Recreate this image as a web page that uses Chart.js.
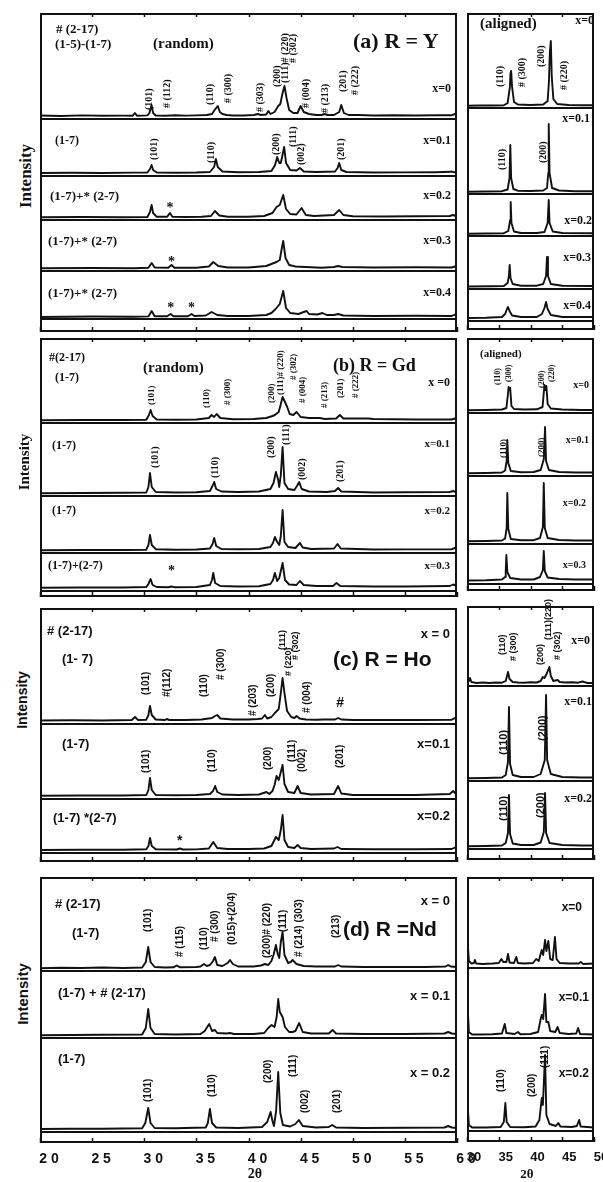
<!DOCTYPE html>
<html><head><meta charset="utf-8">
<script src="https://cdn.jsdelivr.net/npm/chart.js@4.4.1/dist/chart.umd.min.js"></script>
<style>
html,body{margin:0;padding:0;background:#fff;}
body{width:603px;height:1182px;position:relative;overflow:hidden;}
.t{position:absolute;white-space:nowrap;color:#111;line-height:1;}
.se{font-family:"Liberation Serif","DejaVu Serif",serif;font-weight:bold;}
.sa{font-family:"Liberation Sans","DejaVu Sans",sans-serif;font-weight:bold;}
.v{writing-mode:vertical-rl;transform:translate(-50%,-100%) rotate(180deg);}
.vi{writing-mode:vertical-rl;transform:translate(-50%,-50%) rotate(180deg);}
canvas{position:absolute;}
</style></head><body>
<script>
// ---------- DATA (2θ in degrees, intensity in arbitrary units) ----------
const LEFT_TICKS = [20,25,30,35,40,45,50,55,60];
const RIGHT_TICKS = [30,35,40,45,50];

// (a) R = Y, random
const RAND_Y_X0 = [[20,2.5],[22,2],[24,2.6],[26,2.2],[28,2.4],[28.9,2.3],[29.1,5],[29.3,2.3],[30.3,2.6],[30.5,5],[30.7,13],[30.85,5],[31.1,2.5],[32,2.3],[33,2.8],[34,2.4],[35,2.6],[36,3],[36.5,4],[36.75,8],[36.9,10],[37.05,12],[37.25,6],[37.5,4],[37.9,3],[38.5,2.5],[39.5,2.5],[40.5,3],[40.9,4],[41.2,3],[41.7,3.5],[41.9,7],[42.1,4],[42.5,6],[42.85,12],[43.05,14],[43.25,24],[43.45,32],[43.65,20],[43.9,8],[44.3,5],[44.7,5],[45.0,12],[45.3,6],[45.8,4],[46.5,3],[47.0,3],[47.3,4],[47.6,3],[48.2,3],[48.7,6],[48.9,13],[49.15,5],[49.6,3],[50.5,3],[52,2.5],[54,2.8],[56,2.5],[58,2.7],[59.5,2.8],[59.8,4],[60,3]];
const RAND_Y_X01 = [[20,2],[23,2.3],[26,2],[29,2.4],[30.3,2.5],[30.55,6],[30.7,10],[30.85,5],[31.2,2.5],[33,2.3],[35,2.5],[36.3,3],[36.7,8],[36.87,16],[37.05,8],[37.5,3.5],[39,2.8],[41,3],[42.2,4],[42.55,10],[42.75,18],[42.95,12],[43.1,12],[43.3,22],[43.42,28],[43.6,12],[44,5],[44.6,4.5],[44.93,7],[45.3,3.5],[46.5,3],[48.3,3.5],[48.55,7],[48.7,12],[48.9,5],[49.4,3],[52,2.5],[55,2.6],[58,2.8],[59.4,3.2],[59.5,3.5],[59.6,3],[60,2.5]];
const RAND_Y_X02 = [[20,1.7],[24,2],[28,1.8],[30.3,2],[30.55,7],[30.71,14],[30.85,6],[31.2,2.2],[32.2,2.2],[32.46,6],[32.7,2.3],[34,2],[35.5,2.3],[36.4,3],[36.78,8],[37.2,3.5],[38,2.3],[40,2.3],[41.5,3],[42.3,6],[42.69,12],[43,14],[43.33,24],[43.6,10],[44,5],[44.6,4.5],[45.09,11],[45.5,4],[46.3,3],[48.2,4],[48.7,9],[49.1,4],[50,2.8],[53,2.5],[56,2.8],[59.3,3],[59.63,4],[60,2.5]];
const RAND_Y_X03 = [[20,1.7],[25,2],[29,1.8],[30.4,2.2],[30.71,7],[31,2.5],[32.3,2.3],[32.62,5],[32.9,2.2],[35,2.2],[36.2,3.5],[36.62,8],[37.1,4],[38,2.5],[40,2.5],[41.7,4],[42.69,8],[43,10],[43.2,22],[43.33,29],[43.55,12],[43.9,5],[44.5,3.5],[44.93,3.3],[45.5,3],[47.01,2.3],[48.2,3],[48.6,4],[49,3],[52,2.5],[56,2.7],[59.5,2.5],[59.79,3.5],[60,2.5]];
const RAND_Y_X04 = [[20,1],[25,1.5],[29,1.3],[30.4,1.6],[30.71,7],[31,1.8],[32.2,1.7],[32.53,4],[32.8,1.8],[34.2,1.8],[34.54,4],[34.8,2],[35.9,2.5],[36.46,6],[37,3],[38,2],[40,2],[41.7,3],[42.2,5],[42.6,9],[43.0,14],[43.33,27],[43.6,10],[44,5],[44.8,4],[45.3,6],[45.57,7],[45.8,4],[46.6,3.5],[47.1,5],[47.5,3],[48.2,3],[48.6,4],[49.1,2.5],[52,2],[56,2.2],[59.5,2],[59.8,3.5],[60,2]];

// (b) R = Gd, random
const RAND_GD_X0 = [[20,1.7],[24,2],[28,2],[30.2,2.3],[30.45,7],[30.61,12],[30.8,6],[31.2,2.5],[33,2.3],[35,2.5],[36.2,4],[36.46,7],[36.7,5],[36.94,8],[37.3,4],[38.5,2.8],[40.5,3],[41.7,4],[42.3,6],[42.53,7],[42.9,10],[43.1,18],[43.27,25],[43.5,20],[43.71,15],[43.95,8],[44.3,7],[44.61,10],[45,5],[45.8,4],[46.85,4],[47.3,3],[48.4,3.5],[48.76,7],[49.1,3.5],[51.5,3.5],[52,3],[54,2.8],[56,2.5],[59.5,2.5],[59.8,3.5],[60,2.5]];
const RAND_GD_X01 = [[20,1.7],[24,2],[28,2.2],[30.2,2.5],[30.4,8],[30.55,22],[30.72,8],[31.1,3],[33,2.5],[35,2.7],[36.3,4],[36.55,9],[36.71,13],[36.9,6],[37.4,3.5],[39,3],[41,3.5],[42.1,6],[42.4,12],[42.63,23],[42.85,15],[42.95,8],[43.1,20],[43.27,48],[43.45,12],[43.8,6],[44.4,5],[44.65,9],[44.86,13],[45.1,6],[45.8,3.5],[47.5,3],[48.3,4],[48.6,7],[48.9,3.5],[52,2.5],[55,2.8],[59.3,3],[59.63,4],[60,2.5]];
const RAND_GD_X02 = [[20,1.7],[24,2],[28,2],[30.2,2.3],[30.4,7],[30.55,17],[30.72,7],[31.1,2.8],[33,2.3],[35,2.5],[36.3,3.5],[36.55,8],[36.71,14],[36.9,6],[37.4,3],[39,2.7],[41,3],[42.1,5],[42.35,9],[42.53,15],[42.75,10],[42.95,7],[43.1,16],[43.27,42],[43.45,10],[43.8,5],[44.5,4],[44.93,9],[45.2,4.5],[46,3],[48.2,3.5],[48.54,8],[48.85,3.5],[52,2.5],[55,2.6],[59.5,2.8],[59.79,4],[60,2.5]];
const RAND_GD_X03 = [[20,2.3],[24,2.5],[28,2.5],[30.2,3],[30.4,6],[30.61,11],[30.8,5],[31.2,3],[32.3,2.8],[32.62,3.5],[32.9,2.8],[35,3],[36.3,5],[36.5,10],[36.62,17],[36.8,7],[37.3,4],[39,3.5],[41,3.8],[42.1,6],[42.35,10],[42.53,17],[42.75,9],[42.95,12],[43.27,27],[43.5,10],[43.9,5.5],[44.6,5],[44.93,9],[45.3,5],[46.5,4],[48.1,4],[48.44,7],[48.8,4],[52,3.5],[55,3.5],[59.3,4],[59.63,5.5],[60,4]];

// (c) R = Ho, random
const RAND_HO_X0 = [[20,2.5],[23,2.7],[26,2.5],[28.8,3],[29.11,6],[29.4,3],[30.2,3.3],[30.4,8],[30.55,17],[30.72,8],[31.1,3.5],[32,3],[32.15,4],[32.4,3],[34,3],[35.5,3.5],[36.5,5],[36.78,7],[37.0,8],[37.3,4.5],[38.5,3.5],[40,3.5],[40.9,4],[41.3,4.5],[41.57,8],[41.8,4.5],[42.2,6],[42.53,10],[42.9,14],[43.1,30],[43.27,45],[43.45,30],[43.7,12],[44.1,6],[44.4,5],[44.61,7],[44.9,4.5],[45.5,3.5],[46.5,3.3],[47.2,3.5],[48.3,3.5],[48.6,5],[48.9,3.5],[50,3],[53,3],[56,3],[59.5,3.3],[59.79,5],[60,3]];
const RAND_HO_X01 = [[20,2.3],[24,2.5],[28,2.5],[30.2,3],[30.4,8],[30.55,20],[30.72,8],[31.1,3],[33,2.8],[35,3],[36.3,4],[36.6,7],[36.8,12],[37.0,6],[37.5,3.5],[39,3],[41,3.5],[41.73,6],[42,4],[42.3,7],[42.5,13],[42.69,22],[42.9,18],[43.1,26],[43.27,33],[43.45,14],[43.8,6],[44.4,5],[44.71,12],[45,5],[46,3.5],[48.2,4],[48.6,12],[48.9,4.5],[50,3],[53,3],[56,3],[59.3,4],[59.63,7],[59.9,4],[60,3.5]];
const RAND_HO_X02 = [[20,2],[24,2.2],[28,2.3],[30.2,2.8],[30.4,6],[30.55,14],[30.72,6],[31.1,2.8],[33.1,2.5],[33.42,3.5],[33.7,2.5],[35,2.6],[36.2,3.5],[36.62,10],[37,4],[38,3],[40,3],[41.5,3.5],[42.2,6],[42.63,15],[42.9,12],[43.1,22],[43.27,37],[43.45,12],[43.8,5],[44.4,4],[44.71,7],[45,4],[46,3],[48.2,3.5],[48.54,5],[48.9,3],[52,2.7],[56,2.8],[59.5,3],[59.79,4.5],[60,3]];

// (d) R = Nd, random
const RAND_ND_X0 = [[20,1.7],[22,2.2],[24,2],[26,2.5],[28,2],[29.8,2.5],[30.15,8],[30.38,23],[30.6,8],[31,3],[32,2.5],[32.8,2.7],[33.11,4.5],[33.4,2.8],[35,3],[35.4,3.5],[35.72,6],[36.0,4],[36.3,5],[36.6,9],[36.78,13],[37.0,5],[37.5,4],[38.0,7],[38.22,10],[38.5,6],[39,3.5],[40.5,3.5],[41.2,4.5],[41.57,6],[41.9,5],[42.2,9],[42.4,15],[42.63,25],[42.8,16],[42.95,12],[43.1,28],[43.27,38],[43.45,15],[43.8,7],[44.05,8],[44.23,10],[44.6,6],[45.3,4],[46.5,3.5],[48.3,3.5],[48.6,5],[48.9,3.5],[51,3],[54,3],[57,3],[58.9,3.5],[59.15,5],[59.4,3.5],[60,3]];
const RAND_ND_X01 = [[20,1.7],[23,2],[26,2.2],[29.8,2.5],[30.15,9],[30.38,28],[30.6,9],[31,3],[33,2.5],[35.4,3],[35.8,6],[36.23,13],[36.5,6],[36.78,7],[37.0,4],[37.9,3.5],[38.22,4],[38.6,3],[40.5,3],[41.5,4],[41.9,9],[42.21,12],[42.5,10],[42.7,20],[42.85,38],[43.0,25],[43.27,20],[43.5,10],[43.9,5],[44.23,5],[44.5,6],[44.86,14],[45.2,5],[46,3.5],[47.7,3.5],[48.06,7],[48.4,3.5],[51,3],[55,3],[58.8,3.5],[59.15,5],[59.5,3.5],[60,3]];
const RAND_ND_X02 = [[20,2],[23,2.3],[26,2.3],[29.8,2.7],[30.1,8],[30.38,23],[30.6,8],[31,3],[33,2.7],[35.9,3.5],[36.1,8],[36.3,22],[36.5,8],[36.9,3.5],[39,3],[41.3,4],[41.8,9],[42.12,19],[42.3,10],[42.44,5],[42.65,20],[42.85,59],[43.05,18],[43.3,6],[44,4.5],[44.5,7],[44.83,11],[45.2,5],[46.5,3.5],[47.7,4],[48.03,6],[48.4,3.5],[51,3],[55,3.2],[58.8,3.5],[59.15,5],[59.5,3.5],[60,3]];

// aligned samples (30–50°)
const ALIGN_Y_X0 = [[30,1.3],[32,1.5],[34,1.5],[35.8,1.8],[36.4,4],[36.75,20],[36.85,34],[36.95,36],[37.1,20],[37.4,5],[38,2.5],[40,2],[42,2.5],[42.7,6],[42.9,25],[43.05,55],[43.2,66],[43.35,30],[43.6,8],[44.2,3],[46,2],[48,1.8],[50,1.8]];
const ALIGN_Y_X01 = [[30,1.3],[33,1.5],[35.5,1.8],[36.4,3.5],[36.7,15],[36.82,48],[36.95,15],[37.3,4],[38,2.3],[40,2],[42,2.5],[42.6,5],[42.8,20],[42.87,69],[43.0,20],[43.4,5],[44.5,2.5],[47,1.8],[50,1.8]];
const ALIGN_Y_X02 = [[30,1.3],[33,1.5],[35.8,1.8],[36.5,4],[36.8,15],[36.88,33],[37.0,12],[37.4,3.5],[38.5,2],[41,2],[42.2,3],[42.7,12],[42.87,35],[43.0,12],[43.5,3.5],[45,2],[50,1.8]];
const ALIGN_Y_X03 = [[30,1.5],[34,1.7],[35.8,2],[36.4,5],[36.6,12],[36.72,23],[36.85,10],[37.2,4],[38.5,2.3],[41,2.3],[42.0,4],[42.45,12],[42.6,31],[42.75,12],[43.2,4],[45,2.3],[50,2]];
const ALIGN_Y_X04 = [[30,2],[33,2.3],[35.5,3],[36.0,6],[36.3,11],[36.46,13],[36.7,9],[37.1,4.5],[38.5,3],[41,3],[41.8,6],[42.2,12],[42.45,18],[42.7,11],[43.2,5],[45,3],[48,3],[50,3]];
const ALIGN_GD_X0 = [[30,1.7],[33,2],[35.5,2.5],[36.2,4],[36.45,18],[36.55,25],[36.7,22],[36.8,24],[37.0,6],[37.4,3],[39,2.5],[41,2.7],[41.9,5],[42.1,20],[42.2,27],[42.35,22],[42.5,26],[42.7,8],[43.2,3.5],[45,2.5],[48,2],[50,2]];
const ALIGN_GD_X01 = [[30,1.7],[33,2],[35.5,2.5],[36.0,4.5],[36.25,14],[36.35,35],[36.5,12],[36.9,4],[38.5,2.7],[40.5,3],[41.6,5],[42.1,16],[42.29,48],[42.45,14],[42.9,5],[44.5,3],[47,2.5],[50,2.5]];
const ALIGN_GD_X02 = [[30,1.7],[33,2],[35.5,2.5],[36.0,4.5],[36.25,15],[36.35,50],[36.5,14],[36.9,4],[38.5,2.7],[40.5,2.8],[41.5,5],[41.95,16],[42.09,60],[42.25,15],[42.7,5],[44.5,3],[47,2.5],[50,2.5]];
const ALIGN_GD_X03 = [[30,2.5],[33,2.8],[35.5,3.5],[36.0,6],[36.1,12],[36.2,28],[36.35,11],[36.8,5],[38.5,3.5],[40.5,3.5],[41.5,6],[41.95,13],[42.09,32],[42.25,12],[42.7,5.5],[44.5,4],[47,3.5],[50,3.5]];
const ALIGN_HO_X0 = [[30,2],[30.3,4],[30.47,7],[30.7,3],[31.5,2],[32.5,2.5],[33.5,2],[34.5,2.5],[35.5,2.3],[36.1,4],[36.46,13],[36.7,6],[37.2,3],[38,2.5],[39,2.3],[40,2.8],[41,2.5],[41.6,4],[41.93,8],[42.2,7],[42.6,12],[42.97,18],[43.2,9],[43.6,4],[44.27,5],[44.6,3],[45.5,2.5],[46.5,2.8],[47.5,2.3],[48.2,3.5],[48.44,3],[49,2],[50,2]];
const ALIGN_HO_X01 = [[30,1.7],[33,2],[35.5,2.5],[36.1,5],[36.45,18],[36.61,73],[36.78,16],[37.2,5],[38.5,3],[40.5,3],[41.6,6],[42.25,20],[42.45,85],[42.62,20],[43.2,6],[45,3],[48,2.5],[50,2.5]];
const ALIGN_HO_X02 = [[30,1.7],[33,2],[35.5,2.5],[36.1,5],[36.45,15],[36.61,53],[36.78,14],[37.2,4.5],[38.5,3],[40.5,3],[41.6,5.5],[42.1,16],[42.29,55],[42.46,15],[43,5],[45,3],[48,2.5],[50,2.5]];
const ALIGN_ND_X0 = [[30,10],[30.1,25],[30.3,6],[30.7,3.5],[31.1,4],[31.25,7],[31.45,3.5],[32.5,3],[34,3.5],[35,4],[35.42,8],[35.7,5],[36.2,5],[36.46,13],[36.7,4.5],[37.4,4],[37.76,10],[38.0,4],[39,3.5],[40.4,4],[40.89,8],[41.3,6],[41.77,17],[42.0,12],[42.29,27],[42.5,16],[42.81,26],[43.1,8],[43.5,7],[43.85,30],[44.1,8],[44.6,4],[46,3.5],[47.6,3.5],[47.92,5],[48.3,3],[50,3.5]];
const ALIGN_ND_X01 = [[30,10],[30.1,30],[30.3,5],[30.8,2.5],[32,2.5],[34,2.8],[35.5,3.5],[35.94,13],[36.2,4],[37.5,3],[38.02,5],[38.4,2.8],[40,3],[41.2,5],[41.6,18],[41.77,22],[42.0,18],[42.29,43],[42.5,15],[42.81,15],[43.1,6],[43.9,5],[44.27,10],[44.6,4],[46,3],[47.2,3.5],[47.5,9],[47.8,3],[50,2.5]];
const ALIGN_ND_X02 = [[30,10],[30.1,25],[30.3,5],[30.8,2.5],[33,2.5],[35.3,3],[35.8,8],[36.04,27],[36.25,8],[36.8,3],[39,2.8],[40.8,3.5],[41.4,10],[41.77,32],[41.95,25],[42.29,75],[42.5,15],[43,6],[44,4],[44.38,7],[44.7,3.5],[46.5,3],[47.3,4],[47.66,10],[47.9,3.5],[50,2.5]];

// ---------- LAYOUT ----------
const LEFT = {x:40, w:417, min:20, max:60, ticks:LEFT_TICKS};
const RIGHT = {x:467, w:127, min:30, max:50, ticks:RIGHT_TICKS};

// peak labels: [2θ, text, bottom y (px), font size]
const HKL_A = [[30.5,'(101)',110],[32.15,'# (112)',108],[36.3,'(110)',105],[38.0,'# (300)',103],[41.1,'# (303)',112],[42.7,'(200)',87],[43.5,'(111)# (220)',83],[44.3,'# (302)',63],[45.5,'# (004)',108],[47.3,'# (213)',113],[49.1,'(201)',92],[50.2,'# (222)',95],
 [30.9,'(101)',160],[36.4,'(110)',163],[42.6,'(200)',155],[44.25,'(111)',147],[45.0,'(002)',165],[48.9,'(201)',160]];
const MARK_A = [[32.46,'*',208],[32.62,'*',262],[32.53,'*',308],[34.54,'*',308]];
const HKL_B = [[30.6,'(101)',405,9],[35.9,'(110)',408,9],[37.9,'# (300)',405,9],[42.2,'(200)',403,9],[43.0,'(111)# (220)',395,9],[44.3,'# (302)',380,9],[45.1,'# (004)',403,9],[47.2,'# (213)',408,9],[48.76,'(201)',398,9],[50.2,'# (222)',398,9],
 [31.0,'(101)',468],[36.8,'(110)',478],[42.2,'(200)',458],[43.6,'(111)',445],[45.1,'(002)',480],[48.8,'(201)',482]];
const MARK_B = [[32.62,'*',571]];
const HKL_C = [[30.2,'(101)',695],[32.15,'#(112)',697],[35.7,'(110)',697],[37.4,'# (300)',680],[40.4,'# (203)',716],[42.2,'(200)',697],[43.25,'(111)',650,9],[43.8,'# (220)',676,9],[44.5,'# (302)',660,9],[45.6,'# (004)',713],
 [30.2,'(101)',773],[36.46,'(110)',772],[41.9,'(200)',770],[44.13,'(111)',762],[45.1,'(002)',772],[48.76,'(201)',768]];
const MARK_C = [[48.8,'#',702],[33.4,'*',840]];
const HKL_D = [[30.4,'(101)',932],[33.4,'# (115)',957],[35.7,'(110)',950],[36.78,'# (300)',942],[38.38,'(015)+(204)',945],[41.8,'(200)# (220)',958],[43.3,'(111)',932],[44.8,'# (214) (303)',957],[48.4,'(213)',938],
 [30.4,'(101)',1102],[36.46,'(110)',1097],[41.9,'(200)',1083],[44.29,'(111)',1077],[45.41,'(002)',1113],[48.5,'(201)',1113]];
const HKL_RA = [[35.2,'(110)',87],[38.6,'# (300)',87],[41.65,'(200)',67],[45.2,'# (220)',90],[35.5,'(110)',170],[42.0,'(200)',163]];
const HKL_RB = [[34.9,'(110)',385],[36.6,'(300)',382],[41.8,'(200)',388],[43.4,'(220)',382],[35.7,'(110)',458,9],[41.65,'(200)',457,9]];
const HKL_RC = [[35.46,'(110)',655],[37.3,'# (300)',661],[41.5,'(200)',665],[42.8,'(111)(220)',640],[44.1,'# (302)',660],[35.7,'(110)',755,11],[41.8,'(200)',741,11],[35.7,'(110)',821,11],[41.5,'(200)',818,11]];
const HKL_RD = [[35.4,'(110)',1092],[40.3,'(200)',1097],[42.3,'(111)',1068]];

const PANELS = [
 {s:LEFT, rows:[[13,118,RAND_Y_X0],[118,175,RAND_Y_X01],[175,219,RAND_Y_X02],[219,270,RAND_Y_X03],[270,318,RAND_Y_X04]], strip:[318,332], hkl:HKL_A, marks:MARK_A, f:'se', hs:10},
 {s:LEFT, rows:[[338,422,RAND_GD_X0],[422,495,RAND_GD_X01],[495,552,RAND_GD_X02],[552,590,RAND_GD_X03]], strip:[590,597], hkl:HKL_B, marks:MARK_B, f:'se', hs:10},
 {s:LEFT, rows:[[608,723,RAND_HO_X0],[723,798,RAND_HO_X01],[798,852,RAND_HO_X02]], strip:[852,862], hkl:HKL_C, marks:MARK_C, f:'sa', hs:10},
 {s:LEFT, rows:[[877,970,RAND_ND_X0],[970,1037,RAND_ND_X01],[1037,1131,RAND_ND_X02]], strip:[1131,1143], hkl:HKL_D, marks:[], f:'sa', hs:10, axis:true},
 {s:RIGHT, rows:[[13,107,ALIGN_Y_X0],[107,193,ALIGN_Y_X01],[193,235,ALIGN_Y_X02],[235,288,ALIGN_Y_X03],[288,320,ALIGN_Y_X04]], strip:[320,330], hkl:HKL_RA, marks:[], f:'se', hs:10},
 {s:RIGHT, rows:[[338,412,ALIGN_GD_X0],[412,475,ALIGN_GD_X01],[475,543,ALIGN_GD_X02],[543,583,ALIGN_GD_X03]], strip:[583,591], hkl:HKL_RB, marks:[], f:'se', hs:8},
 {s:RIGHT, rows:[[606,685,ALIGN_HO_X0],[685,780,ALIGN_HO_X01],[780,848,ALIGN_HO_X02]], strip:[848,860], hkl:HKL_RC, marks:[], f:'sa', hs:9},
 {s:RIGHT, rows:[[877,967,ALIGN_ND_X0],[967,1037,ALIGN_ND_X01],[1037,1130,ALIGN_ND_X02]], strip:[1130,1142], hkl:HKL_RD, marks:[], f:'sa', hs:10, axis:true}
];

// free text: [text, x, y(center), size, font, anchor]
const LAB = [
 ['# (2-17)',56,28,13,'se','l'],['(1-5)-(1-7)',55,43,13,'se','l'],['(random)',153,43,15,'se','l'],['(a) R = Y',353,41,22,'se','l'],['x=0',451,88,12,'se','r'],
 ['(1-7)',55,140,12,'se','l'],['x=0.1',451,140,12,'se','r'],
 ['(1-7)+* (2-7)',50,195,13,'se','l'],['x=0.2',451,195,12,'se','r'],
 ['(1-7)+* (2-7)',48,240,13,'se','l'],['x=0.3',451,240,12,'se','r'],
 ['(1-7)+* (2-7)',48,292,13,'se','l'],['x=0.4',451,292,12,'se','r'],
 ['#(2-17)',49,357,12,'se','l'],['(1-7)',55,377,12,'se','l'],['(random)',143,367,15,'se','l'],['(b) R = Gd',333,365,18,'se','l'],['x =0',450,382,12,'se','r'],
 ['(1-7)',52,445,12,'se','l'],['x=0.1',450,443,11,'se','r'],
 ['(1-7)',52,510,12,'se','l'],['x=0.2',450,510,11,'se','r'],
 ['(1-7)+(2-7)',48,565,12,'se','l'],['x=0.3',450,565,11,'se','r'],
 ['# (2-17)',47,630,13,'sa','l'],['(1- 7)',62,658,13,'sa','l'],['x = 0',450,633,13,'sa','r'],['(c) R = Ho',333,658,21,'sa','l'],
 ['(1-7)',62,743,13,'sa','l'],['x=0.1',450,743,13,'sa','r'],
 ['(1-7)  *(2-7)',53,817,13,'sa','l'],['x=0.2',450,815,13,'sa','r'],
 ['# (2-17)',55,903,13,'sa','l'],['(1-7)',72,932,13,'sa','l'],['x = 0',450,900,13,'sa','r'],['(d) R =Nd',343,928,21,'sa','l'],
 ['(1-7) + # (2-17)',58,992,13,'sa','l'],['x = 0.1',450,995,13,'sa','r'],
 ['(1-7)',58,1058,13,'sa','l'],['x = 0.2',450,1072,13,'sa','r'],
 ['(aligned)',480,23,15,'se','l'],['x=0',594,20,12,'se','r'],['x=0.1',590,118,12,'se','r'],['x=0.2',592,220,12,'se','r'],['x=0.3',591,257,12,'se','r'],['x=0.4',591,305,12,'se','r'],
 ['(aligned)',480,353,11,'se','l'],['x=0',589,385,10,'se','r'],['x=0.1',589,440,10,'se','r'],['x=0.2',586,503,10,'se','r'],['x=0.3',586,565,10,'se','r'],
 ['x=0',590,640,12,'se','r'],['x=0.1',592,701,12,'se','r'],['x=0.2',592,798,12,'se','r'],
 ['x=0',582,907,12,'sa','r'],['x=0.1',589,997,12,'sa','r'],['x=0.2',589,1073,12,'sa','r'],
 ['2θ',255,1174,14,'se','c'],['2θ',527,1173,13,'se','c']
];
// rotated axis titles: [text, x, y, size, font]
const YTITLES = [['Intensity',25,176,17,'se'],['Intensity',24,462,15,'se'],['Intensity',22,700,14,'sa'],['Intensity',22,994,15,'sa']];

// ---------- PLUGINS ----------
const framePlugin = {id:'frame', afterDraw(chart, a, o){
  if(!o || !o.on) return;
  const {ctx, chartArea:c} = chart; ctx.save(); ctx.strokeStyle='#111'; ctx.lineWidth=2; ctx.beginPath();
  ctx.moveTo(c.left+1,c.top); ctx.lineTo(c.left+1,c.bottom);
  ctx.moveTo(c.right-1,c.top); ctx.lineTo(c.right-1,c.bottom);
  if(o.top){ctx.moveTo(c.left,c.top+1); ctx.lineTo(c.right,c.top+1);}
  if(o.bottom){ctx.moveTo(c.left,c.bottom-1); ctx.lineTo(c.right,c.bottom-1);}
  ctx.stroke(); ctx.restore();
}};
const tickPlugin = {id:'tickMarks', afterDraw(chart, a, o){
  if(!o || !o.values) return;
  const {ctx, chartArea:c, scales:{x}} = chart; ctx.save(); ctx.strokeStyle='#111'; ctx.lineWidth=1.5; ctx.beginPath();
  o.values.forEach(v=>{ const p=Math.round(x.getPixelForValue(v))+0.5;
    if(o.top){ctx.moveTo(p,c.top); ctx.lineTo(p,c.top+o.top);}
    if(o.bottom){ctx.moveTo(p,c.bottom); ctx.lineTo(p,c.bottom-o.bottom);} });
  ctx.stroke(); ctx.restore();
}};

function mkCanvas(x,y,w,h){const c=document.createElement('canvas'); c.width=w; c.height=h; c.style.left=x+'px'; c.style.top=y+'px'; c.style.width=w+'px'; c.style.height=h+'px'; document.body.appendChild(c); return c;}

function rowChart(s, y0, y1, data, first){
  const h=y1-y0;
  return new Chart(mkCanvas(s.x,y0,s.w,h),{type:'line',
    data:{datasets:[{data:data.map(p=>({x:p[0],y:p[1]})),borderColor:'#111',borderWidth:1.9,pointRadius:0,tension:0,fill:false,borderJoinStyle:'round'}]},
    options:{responsive:false,animation:false,events:[],layout:{padding:0},
      scales:{x:{type:'linear',min:s.min,max:s.max,display:false},y:{min:0,max:h,display:false}},
      plugins:{legend:{display:false},tooltip:{enabled:false},frame:{on:true,top:true},tickMarks:first?{values:s.ticks,top:4}:{}}},
    plugins:[framePlugin,tickPlugin]});
}
function stripChart(s, y0, y1, axis, right){
  const h=y1-y0, pad=22, extra=axis?40:0;
  return new Chart(mkCanvas(s.x-pad,y0,s.w+2*pad,h+extra),{type:'line',data:{datasets:[]},
    options:{responsive:false,animation:false,events:[],layout:{padding:{left:pad,right:pad,top:0,bottom:0}},
      scales:{x:{type:'linear',min:s.min,max:s.max,display:!!axis,position:'bottom',
          grid:{display:false},border:{display:false},
          afterBuildTicks:sc=>{sc.ticks=s.ticks.map(v=>({value:v}));},
          afterFit:sc=>{sc.height=extra;},
          ticks:{color:'#111',padding:0,labelOffset:right?7:9,maxRotation:0,autoSkip:false,
            font:{family:'"Liberation Sans", Arial, sans-serif',weight:'bold',size:right?13:14},
            callback:v=> right? String(v) : String(v).split('').join(' ')}},
        y:{min:0,max:1,display:false}},
      plugins:{legend:{display:false},tooltip:{enabled:false},frame:{on:true,top:true,bottom:true},tickMarks:{values:s.ticks,bottom:5}}},
    plugins:[framePlugin,tickPlugin]});
}
function addText(t,x,y,size,font,anchor){
  const d=document.createElement('div'); d.className='t '+font; d.textContent=t; d.style.fontSize=size+'px'; d.style.top=y+'px';
  if(anchor==='r'){d.style.right=(603-x)+'px'; d.style.transform='translateY(-50%)';}
  else if(anchor==='c'){d.style.left=x+'px'; d.style.transform='translate(-50%,-50%)';}
  else {d.style.left=x+'px'; d.style.transform='translateY(-50%)';}
  document.body.appendChild(d);
}

PANELS.forEach(P=>{
  let ref=null;
  P.rows.forEach((r,i)=>{const ch=rowChart(P.s,r[0],r[1],r[2],i===0); if(i===0) ref=ch;});
  stripChart(P.s,P.strip[0],P.strip[1],P.axis,P.s===RIGHT);
  P.hkl.forEach(m=>{
    const d=document.createElement('div'); d.className='t v '+P.f; d.textContent=m[1];
    d.style.fontSize=(m[3]||P.hs)+'px';
    d.style.left=(P.s.x+ref.scales.x.getPixelForValue(m[0]))+'px'; d.style.top=m[2]+'px';
    document.body.appendChild(d);
  });
  P.marks.forEach(m=>addText(m[1],P.s.x+ref.scales.x.getPixelForValue(m[0]),m[2],14,P.f,'c'));
});
LAB.forEach(l=>addText(...l));
YTITLES.forEach(t=>{const d=document.createElement('div'); d.className='t vi '+t[4]; d.textContent=t[0]; d.style.fontSize=t[3]+'px'; d.style.left=t[1]+'px'; d.style.top=t[2]+'px'; document.body.appendChild(d);});
</script>
</body></html>
